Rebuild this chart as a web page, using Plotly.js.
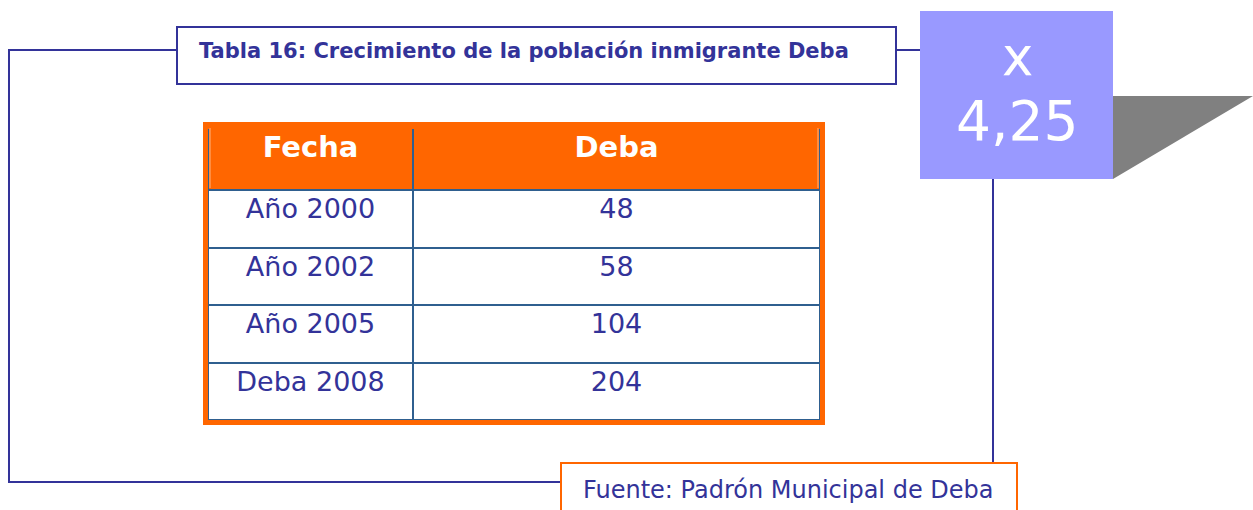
<!DOCTYPE html>
<html>
<head>
<meta charset="utf-8">
<script src="https://cdn.plot.ly/plotly-3.0.1.min.js"></script>
<style>html,body{margin:0;padding:0;background:#fff;}#chart{width:1253px;height:510px;}</style>
</head>
<body>
<div id="chart"></div>
<script>
// ---- data ----
var headerLabels = ['Fecha', 'Deba'];
var fechas = ['Año 2000', 'Año 2002', 'Año 2005', 'Deba 2008'];
var valores = [48, 58, 104, 204];
var titulo = 'Tabla 16: Crecimiento de la población inmigrante Deba';
var fuente = 'Fuente: Padrón Municipal de Deba';
var factor = (valores[valores.length - 1] / valores[0]).toFixed(2).replace('.', ',');

var W = 1253, H = 510;
var navy = '#333399', orange = '#FF6600', rowLine = '#2F5F8F';
var font = 'DejaVu Sans, Verdana, sans-serif';

function fx(px) { return px / W; }
function fy(py) { return 1 - py / H; }
function P(pts, close) {
  return pts.map(function (p, i) { return (i ? 'L' : 'M') + fx(p[0]).toFixed(5) + ',' + fy(p[1]).toFixed(5); }).join(' ') + (close ? ' Z' : '');
}
function rect(x0, y0, x1, y1, o) {
  var s = { type: 'rect', xref: 'paper', yref: 'paper', x0: fx(x0), x1: fx(x1), y0: fy(y1), y1: fy(y0) };
  for (var k in o) s[k] = o[k];
  return s;
}
function path(pts, close, o) {
  var s = { type: 'path', xref: 'paper', yref: 'paper', path: P(pts, close) };
  for (var k in o) s[k] = o[k];
  return s;
}

// table placement (pixels)
var tx0 = 208, tx1 = 820, ty0 = 127, ty1 = 421;

var table = {
  type: 'table',
  domain: { x: [fx(tx0), fx(tx1)], y: [fy(ty1), fy(ty0)] },
  columnwidth: [205, 407],
  header: {
    values: headerLabels,
    align: 'center',
    height: 63,
    fill: { color: orange },
    line: { color: rowLine, width: 2 },
    font: { family: font, size: 29, color: '#ffffff', weight: 'bold' }
  },
  cells: {
    values: [fechas, valores],
    align: 'center',
    height: 57.5,
    fill: { color: '#ffffff' },
    line: { color: rowLine, width: 2 },
    font: { family: font, size: 27, color: navy }
  }
};

var shapes = [
  path([[177, 50], [9, 50], [9, 482], [561, 482]], false, { line: { color: navy, width: 2 } }),
  rect(177, 27, 896, 84, { line: { color: navy, width: 2 }, fillcolor: '#ffffff' }),
  path([[896, 50], [920, 50]], false, { line: { color: navy, width: 2 } }),
  path([[993, 179], [993, 463]], false, { line: { color: navy, width: 2 } }),
  path([[1113, 96], [1253, 96], [1113, 179]], true, { fillcolor: '#808080', line: { width: 0 } }),
  rect(920, 11, 1113, 179, { fillcolor: '#9999FF', line: { width: 0 } }),
  rect(561, 463, 1017, 520, { line: { color: orange, width: 2 }, fillcolor: '#ffffff' }),
  rect(205, 124, 823, 129, { fillcolor: orange, line: { width: 0 } }),
  path([[210, 128], [210, 188]], false, { line: { color: '#FFB380', width: 1 }, layer: 'above' }),
  path([[818, 128], [818, 188]], false, { line: { color: '#FFB380', width: 1 }, layer: 'above' }),
  rect(205.5, 124.5, 822.5, 422.5, { line: { color: orange, width: 5 }, layer: 'above' })
];

function ann(x, y, text, xa, size, color) {
  return { xref: 'paper', yref: 'paper', x: fx(x), y: fy(y), text: text, showarrow: false,
    xanchor: xa, yanchor: 'middle', font: { family: font, size: size, color: color } };
}
var annotations = [
  ann(197, 51, '<b>' + titulo + '</b>', 'left', 21, navy),
  ann(581, 490, fuente, 'left', 24, navy),
  ann(1017, 56, 'x', 'center', 53, '#ffffff'),
  ann(1017, 121, factor, 'center', 55, '#ffffff')
];

var layout = {
  width: W, height: H,
  margin: { l: 0, r: 0, t: 0, b: 0 },
  paper_bgcolor: '#ffffff',
  showlegend: false,
  shapes: shapes,
  annotations: annotations
};

Plotly.newPlot('chart', [table], layout, { displayModeBar: false, staticPlot: true });
</script>
</body>
</html>
